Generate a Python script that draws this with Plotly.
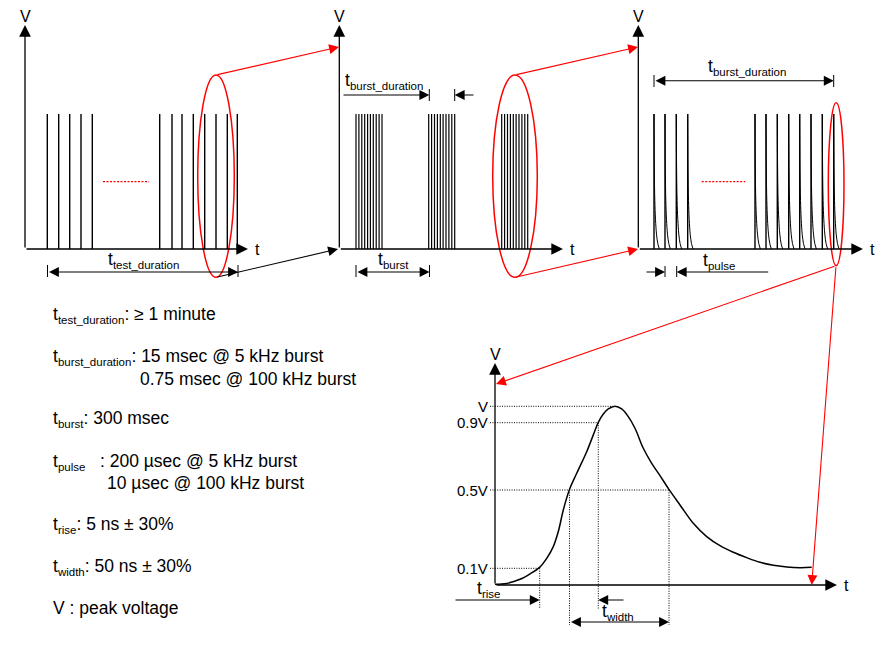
import plotly.graph_objects as go

# pulse times in each panel, t measured from the V axis, V as fraction of peak
train_times = [22.3, 33.7, 44.7, 56, 67.3, 134.7, 147, 157, 168.3, 179.7, 191, 202.3, 212.3]
burst_starts = [16.7, 89.4, 162.4]
burst_offsets = [0, 2.9, 5.8, 8.7, 11.6, 14.4, 17.3, 20.2, 23.1, 26]
pulse_times = [15.7, 26.7, 38, 49.4, 116.7, 127.7, 139, 150.4, 161.4, 172.7, 184, 195.4]
decay_dt = [0, 0.3, 0.8, 1.5, 2.5, 3.8, 5.4]
decay_v = [1, 0.6, 0.36, 0.22, 0.11, 0.04, 0]

# single pulse shape
shape_t = [0, 11.7, 25, 35, 44.3, 51.7, 58.3, 63.3, 68.3, 74.3, 81.7, 91.7, 98.3, 103.3, 108.3,
           113.3, 120, 126.7, 133.3, 140, 148.3, 156.7, 165, 174.3, 185, 198.3, 211.7, 225,
           238.3, 251.7, 265, 278.3, 291.7, 305, 316.7]
shape_v = [0.004, 0.009, 0.032, 0.062, 0.097, 0.149, 0.215, 0.299, 0.42, 0.532, 0.625, 0.746,
           0.84, 0.91, 0.957, 0.985, 1.0, 0.985, 0.942, 0.877, 0.765, 0.681, 0.612, 0.532,
           0.448, 0.345, 0.271, 0.22, 0.183, 0.153, 0.127, 0.11, 0.101, 0.097, 0.099]

level_labels = ["V", "0.9V", "0.5V", "0.1V"]
spec_names = ["test_duration", "burst_duration", "burst", "pulse", "rise", "width"]
spec_values = [": ≥ 1 minute", ": 15 msec @ 5 kHz burst", ": 300 msec", "   : 200 µsec @ 5 kHz burst",
               ": 5 ns ± 30%", ": 50 ns ± 30%"]

W, H = 879, 655
FONT = "Liberation Sans"
RED = "#ff0000"
DOTS = "1px,1.4px"

fig = go.Figure()
annotations = []
shapes = []


def sub(name):
    return f't<sub><span style="font-size:11.5px">{name}</span></sub>'


def add_panel(n, left, right, top, bottom, vmax):
    # one set of hidden axes per panel, placed by pixel box on the page
    fig.update_layout({
        f"xaxis{n}": dict(domain=[left / W, right / W], range=[0, right - left], visible=False, anchor=f"y{n}"),
        f"yaxis{n}": dict(domain=[1 - bottom / H, 1 - top / H], range=[0, vmax], visible=False, anchor=f"x{n}"),
    })


def spikes(n, times, width):
    xs, ys = [], []
    for t in times:
        xs += [t, t, None]
        ys += [0, 1, None]
    fig.add_trace(go.Scatter(x=xs, y=ys, mode="lines", line=dict(color="black", width=width),
                             xaxis=f"x{n}", yaxis=f"y{n}", hoverinfo="skip"))


def arrow(x0, y0, x1, y1, color="black", both=False, width=1.1, size=1.8):
    annotations.append(dict(
        x=x1, y=y1, ax=x0, ay=y0, xref="x5", yref="y5", axref="x5", ayref="y5", text="",
        showarrow=True, arrowhead=2, arrowsize=size, arrowwidth=width, arrowcolor=color,
        arrowside="end+start" if both else "end", startarrowhead=2, startarrowsize=size,
    ))


def line(x0, y0, x1, y1, color="black", width=1, dash="solid"):
    shapes.append(dict(type="line", x0=x0, y0=y0, x1=x1, y1=y1, xref="x5", yref="y5",
                       line=dict(color=color, width=width, dash=dash)))


def label(x, y, text, size=17.5, anchor="left"):
    annotations.append(dict(x=x, y=y, text=text, xref="x5", yref="y5", showarrow=False,
                            xanchor=anchor, yanchor="middle", align="left",
                            font=dict(family=FONT, size=size, color="black")))


def ellipse(x0, y0, x1, y1):
    shapes.append(dict(type="circle", x0=x0, y0=y0, x1=x1, y1=y1, xref="x5", yref="y5",
                       line=dict(color=RED, width=1.5)))


def axes(x0, y0, top, right):
    arrow(x0, y0, x0, top, width=1.3)
    arrow(x0, y0, right, y0, width=1.3)
    label(x0, top - 9, "V", size=16, anchor="center")
    label(right + 9, y0, "t", size=16, anchor="center")


add_panel(1, 25, 248, 25, 249, 224 / 135)
add_panel(2, 339.3, 563, 25, 249, 224 / 135)
add_panel(3, 638.3, 863, 25, 249, 224 / 135)
add_panel(4, 495, 837, 363, 585, 222 / 178.7)
fig.update_layout(
    xaxis5=dict(domain=[0, 1], range=[0, W], visible=False, anchor="y5"),
    yaxis5=dict(domain=[0, 1], range=[H, 0], visible=False, anchor="x5"),
)

spikes(1, train_times, 1.4)
spikes(2, [s + o for s in burst_starts for o in burst_offsets], 1.2)
spikes(3, pulse_times, 1.4)

tail_x, tail_y = [], []
for t in pulse_times:
    tail_x += [t + d for d in decay_dt] + [None]
    tail_y += decay_v + [None]
fig.add_trace(go.Scatter(x=tail_x, y=tail_y, mode="lines", line=dict(color="black", width=1, shape="spline"),
                         xaxis="x3", yaxis="y3", hoverinfo="skip"))
fig.add_trace(go.Scatter(x=shape_t, y=shape_v, mode="lines", line=dict(color="black", width=1.5, shape="spline"),
                         xaxis="x4", yaxis="y4", hoverinfo="skip"))
# page layer needs a trace so its axes exist
fig.add_trace(go.Scatter(x=[0], y=[0], mode="markers", marker=dict(opacity=0), xaxis="x5", yaxis="y5", hoverinfo="skip"))

axes(25, 249, 25, 248)
axes(339.3, 249, 25, 563)
axes(638.3, 249, 25, 863)
axes(495, 585, 363, 837)

# panel 1 callouts
line(103, 181.7, 149, 181.7, RED, 1.2, "2px,1.5px")
ellipse(197.7, 75, 234.3, 277.3)
arrow(216, 75, 339, 47, RED)
arrow(216, 277.3, 338, 249)
arrow(47.5, 272, 238, 272, both=True)
line(47.5, 265, 47.5, 277)
line(238, 265, 238, 277)
label(106, 260, sub("test_duration"))

# panel 2 callouts
ellipse(492.7, 75, 537.3, 277.3)
arrow(515, 75, 638, 47, RED)
arrow(515, 277.3, 638, 249, RED)
arrow(342, 95, 429.3, 95)
line(429.3, 89, 429.3, 101)
arrow(475, 95, 454.7, 95)
line(454.7, 89, 454.7, 101)
label(343, 81, sub("burst_duration"))
arrow(356, 272, 429.5, 272, both=True)
line(356, 265, 356, 277)
line(429.5, 265, 429.5, 277)
label(376, 260, sub("burst"))

# panel 3 callouts
line(701.7, 181.7, 745, 181.7, RED, 1.2, "2px,1.5px")
ellipse(828.3, 102.7, 844, 265.7)
arrow(654, 80.7, 833.7, 80.7, both=True)
line(654, 75, 654, 87)
line(833.7, 75, 833.7, 87)
label(706, 67, sub("burst_duration"))
arrow(645, 272, 665, 272)
line(665, 266, 665, 277)
arrow(769.7, 272, 676.7, 272)
line(676.7, 266, 676.7, 277)
label(701, 261, sub("pulse"))
arrow(836, 265.7, 496, 384, RED)
arrow(836, 265.7, 811.7, 585, RED)

# panel 4 guides
for lab, y, x_end in zip(level_labels, [406.3, 422.7, 490, 568.3], [613, 598.3, 669, 539.7]):
    line(490, y, x_end, y, dash=DOTS)
    label(490, y, lab, size=15, anchor="right")
line(539.7, 568.3, 539.7, 608.7, dash=DOTS)
line(569.5, 490, 569.5, 625, dash=DOTS)
line(598.3, 422.7, 598.3, 608.7, dash=DOTS)
line(669, 490, 669, 625, dash=DOTS)
arrow(454, 600, 539.7, 600)
arrow(625, 600, 598.3, 600)
arrow(569.5, 622, 669, 622, both=True)
label(475, 589, sub("rise"))
label(600, 612, sub("width"))

# spec text
for name, value, y in zip(spec_names, spec_values, [315, 357, 419, 462, 525, 567]):
    label(51, y, sub(name) + value)
label(51, 608, "V : peak voltage")
label(138, 378.7, "0.75 msec @ 100 kHz burst")
label(105, 483, "10 µsec @ 100 kHz burst")

fig.update_layout(
    width=W, height=H,
    margin=dict(l=0, r=0, t=0, b=0),
    paper_bgcolor="white",
    plot_bgcolor="rgba(0,0,0,0)",
    showlegend=False,
    annotations=annotations,
    shapes=shapes,
)

fig.write_html("out.html", config={"displayModeBar": False}, post_script="document.body.style.margin='0';")
